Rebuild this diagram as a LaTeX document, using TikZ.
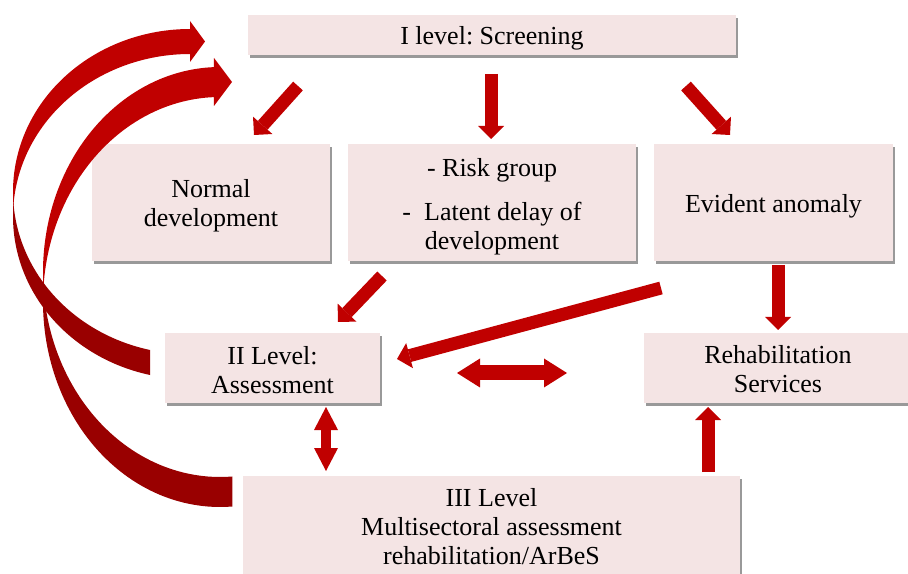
\documentclass[tikz,border=0pt]{standalone}
\usepackage{fontspec}
\setmainfont{Liberation Serif}
\usetikzlibrary{arrows.meta,shadows}
\definecolor{ared}{HTML}{C00000}
\definecolor{adark}{HTML}{990000}
\definecolor{boxfill}{HTML}{F4E4E4}
\frenchspacing
\begin{document}
\begin{tikzpicture}[x=0.75pt,y=-0.75pt,
  box/.style={rectangle, fill=boxfill, draw=none, inner sep=0pt,
    drop shadow={shadow xshift=1.6pt,shadow yshift=-2pt,opacity=0.4,fill=black}},
  txt/.style={align=center, inner sep=0pt, font=\fontsize{19.5}{21.75}\selectfont\frenchspacing},
  blk/.style={draw=ared, line width=9.75pt,
    -{Triangle[width=19.5pt,length=9.75pt,line width=0pt]}},
  dblh/.style={draw=ared, line width=11.25pt,
    {Triangle[width=21.75pt,length=17.25pt,line width=0pt]}-{Triangle[width=21.75pt,length=17.25pt,line width=0pt]}},
  dblv/.style={draw=ared, line width=7.5pt,
    {Triangle[width=18pt,length=17.25pt,line width=0pt]}-{Triangle[width=18pt,length=17.25pt,line width=0pt]}},
  curvebright/.style={fill=ared, draw=none},
  curvedark/.style={fill=adark, draw=none}]
\useasboundingbox (0,0) rectangle (908,574);

% boxes
\node[box, minimum width=366pt, minimum height=30pt] (screen) at (492,35) {};
\node[box, minimum width=178.5pt, minimum height=87.75pt] (normal) at (211,202.5) {};
\node[box, minimum width=216pt, minimum height=87.75pt] (risk) at (492,202.5) {};
\node[box, minimum width=179.25pt, minimum height=87.75pt] (evident) at (773.5,202.5) {};
\node[box, minimum width=161.25pt, minimum height=52.5pt] (assess) at (272.5,368) {};
\node[box, minimum width=201pt, minimum height=52.5pt] (rehab) at (778,368) {};
\node[box, minimum width=372.75pt, minimum height=78pt] (third) at (491.5,528) {};

% texts
\node[txt] (screen-t) at (492,38) {I level: Screening};
\node[txt] (normal-t) at (211,205.5) {Normal\\development};
\node[txt] (risk-t) at (492,206.5) {- Risk group\\[11pt]-~~Latent delay of\\development};
\node[txt] (evident-t) at (773.5,206.5) {Evident anomaly};
\node[txt] (assess-t) at (272.5,370) {II Level:\\Assessment};
\node[txt] (rehab-t) at (778,369) {Rehabilitation\\Services};
\node[txt] (third-t) at (491.5,527) {III Level\\Multisectoral assessment\\rehabilitation/ArBeS};

% curved arrow B (III level -> screening)
\fill[curvedark] plot[domain=180:86,samples=60,variable=\t] ({220+177*cos(\t)},{272+205*sin(\t)})
  -- plot[domain=86:180,samples=60,variable=\t] ({220+177*cos(\t)},{302+205*sin(\t)}) -- cycle;
\fill[curvebright] plot[domain=268:180,samples=60,variable=\t] ({220+177*cos(\t)},{272+205*sin(\t)})
  -- plot[domain=180:268,samples=60,variable=\t] ({220+177*cos(\t)},{302+205*sin(\t)})
  -- (214,106) -- (232,82) -- (214,58) -- cycle;
% curved arrow A (II level -> screening)
\fill[curvedark] plot[domain=180:103,samples=60,variable=\t] ({190+177*cos(\t)},{191.6+162.6*sin(\t)})
  -- plot[domain=103:180,samples=60,variable=\t] ({190+177*cos(\t)},{216.6+162.6*sin(\t)}) -- cycle;
\fill[curvebright] plot[domain=270:180,samples=60,variable=\t] ({190+177*cos(\t)},{191.6+162.6*sin(\t)})
  -- plot[domain=180:270,samples=60,variable=\t] ({190+177*cos(\t)},{216.6+162.6*sin(\t)})
  -- (190,62) -- (205,41.5) -- (190,21) -- cycle;

% straight block arrows
\coordinate (a1s) at (298,86);  \coordinate (a1e) at (254,135);
\coordinate (a2s) at (491,74);  \coordinate (a2e) at (491,139);
\coordinate (a3s) at (686,86);  \coordinate (a3e) at (730,135);
\coordinate (a4s) at (382,276); \coordinate (a4e) at (338,322);
\coordinate (a5s) at (661,288); \coordinate (a5e) at (397,359);
\coordinate (a6s) at (457,373); \coordinate (a6e) at (567,373);
\coordinate (a7s) at (778,265); \coordinate (a7e) at (778,330);
\coordinate (a8s) at (326,407); \coordinate (a8e) at (326,471);
\coordinate (a9s) at (708,472); \coordinate (a9e) at (708,407);
\draw[blk] (a1s) -- (a1e);
\draw[blk] (a2s) -- (a2e);
\draw[blk] (a3s) -- (a3e);
\draw[blk] (a4s) -- (a4e);
\draw[blk] (a5s) -- (a5e);
\draw[dblh] (a6s) -- (a6e);
\draw[blk] (a7s) -- (a7e);
\draw[dblv] (a8s) -- (a8e);
\draw[blk] (a9s) -- (a9e);
\end{tikzpicture}
\end{document}
